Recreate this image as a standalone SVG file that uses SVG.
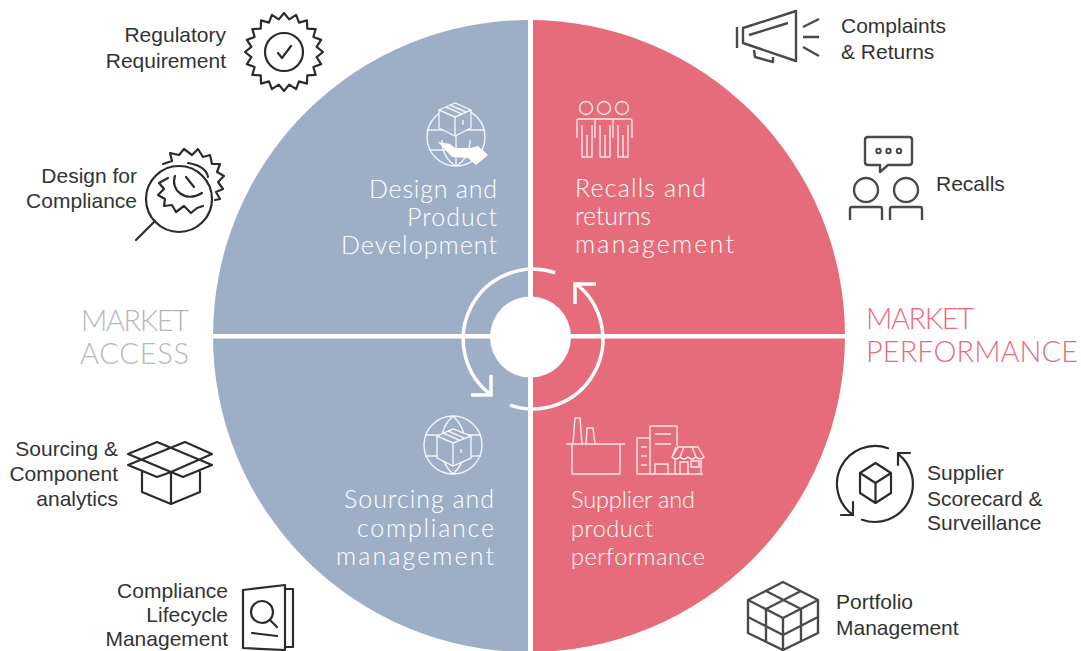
<svg xmlns="http://www.w3.org/2000/svg" width="1081" height="651" viewBox="0 0 1081 651">
<style>
.lbl{font-family:"Liberation Sans",Arial,sans-serif;font-size:21px;fill:#333}
.end{text-anchor:end}
.in{font-family:Lato,"Open Sans",sans-serif;font-weight:300;font-size:25px;fill:#fff}
.in2{font-size:23.500px}
.big{font-family:Lato,"Open Sans",sans-serif;font-weight:300;font-size:29px}
.ic{fill:none;stroke:#2b2b2b;stroke-width:2.200;stroke-linejoin:round;stroke-linecap:round}
.ig{fill:none;stroke:#4a4a4a;stroke-width:2.400;stroke-linejoin:round}
.dot{fill:none;stroke:#4a4a4a;stroke-width:2}
.wi{fill:none;stroke:#fff;stroke-width:1.400;stroke-linejoin:round;opacity:.85}
.ring{fill:none;stroke:#fff;stroke-width:3.500}
</style>
<defs>
<clipPath id="lh"><rect x="0" y="0" width="528" height="651"/></clipPath>
<clipPath id="rh"><rect x="533" y="0" width="548" height="651"/></clipPath>
</defs>
<rect width="1081" height="651" fill="#fff"/>
<g id="quadrants">
<circle cx="529" cy="336" r="316" fill="#9dafc7" clip-path="url(#lh)"/>
<circle cx="529" cy="336" r="316" fill="#e76c7b" clip-path="url(#rh)"/>
<rect x="205" y="334" width="650" height="4.500" fill="#fff"/>
</g>
<g id="centre">
<circle cx="530.500" cy="337" r="40.500" fill="#fff"/>
<path class="ring" d="M555.100,272.600A70,70 0 0 0 491.900,395.600"/>
<path class="ring" d="M491,375V395H471"/>
<path class="ring" d="M510,405.100A70,70 0 0 0 575.500,283.400"/>
<path class="ring" d="M575,304V284H596"/>
</g>
<g id="market-access">
<text class="big end" x="189" y="331" fill="#b3b8bd" textLength="108">MARKET</text>
<text class="big end" x="189" y="364" fill="#b3b8bd" textLength="109">ACCESS</text>
</g>
<g id="market-performance">
<text class="big" x="866" y="329" fill="#e76c7b" textLength="108">MARKET</text>
<text class="big" x="866" y="362" fill="#e76c7b" textLength="212">PERFORMANCE</text>
</g>
<g id="design-development">
<circle class="wi" cx="456" cy="137" r="29"/>
<path class="wi" d="M428,130H484M429,150H483M456,136V166M442,140C442,150 446,160 456,166M470,140C470,150 466,160 456,166"/>
<path d="M439,110L455,103L471,110V128L455,136L439,128Z" fill="#9dafc7" stroke="#fff" stroke-width="1.200" opacity=".9"/>
<path class="wi" d="M439,110L455,117L471,110M455,117V136M446,107L462,114M450,105L466,112M463,120V125"/>
<path d="M438,142L450,144L455,148L470,148L478,146L488,155L476,165L468,158L452,157Z" fill="#fff"/>
<text class="in end" x="497" y="198" textLength="128">Design and</text>
<text class="in end" x="497" y="226" textLength="90">Product</text>
<text class="in end" x="497" y="254" textLength="156">Development</text>
</g>
<g id="recalls-management">
<circle class="wi" cx="586" cy="108" r="6.500"/><circle class="wi" cx="604" cy="108" r="6.500"/><circle class="wi" cx="622" cy="108" r="6.500"/>
<path class="wi" d="M577,138V121Q577,119 579,119H630Q632,119 632,121V138M595,119V138M613,119V138"/>
<path class="wi" d="M582,125V157H592V125M587,135V157M600,125V157H610V125M605,135V157M618,125V157H628V125M623,135V157"/>
<text class="in" x="575" y="197" textLength="131">Recalls and</text>
<text class="in" x="575" y="225" textLength="76">returns</text>
<text class="in" x="575" y="253" textLength="159">management</text>
</g>
<g id="sourcing-compliance">
<circle class="wi" cx="453" cy="445" r="29"/>
<path class="wi" d="M425,435H481M425,456H481M453,416C437,430 437,460 453,474M453,416C469,430 469,460 453,474"/>
<path d="M437,436L453,429L471,436V458L453,466L437,458Z" fill="#9dafc7" stroke="#fff" stroke-width="1.200"/>
<path class="wi" d="M437,436L453,443L471,436M453,443V466M443,433L459,440M448,431L464,438M461,449V453"/>
<text class="in end" x="494" y="508" textLength="150">Sourcing and</text>
<text class="in end" x="494" y="537" textLength="137">compliance</text>
<text class="in end" x="494" y="565" textLength="158">management</text>
</g>
<g id="supplier-performance">
<path class="wi" d="M566,444H625M572,444V474H620V444M573,444L575,418H580L582,444M586,444L587,428H593L595,444"/>
<path class="wi" d="M650,438H637V474H703M650,426H677V446M650,426V474M655,434H671M655,444H671M641,447H647M641,456H647M641,465H647M655,464H668V474H655Z"/>
<path class="wi" d="M672,457L678,447H698L704,457Q700,461 696,457Q692,461 688,457Q684,461 680,457Q676,461 672,457ZM675,460V474M701,460V474M676,447L672,457M684,447L680,457M692,447L696,457M680,474V462H688V474M691,461H699V467H691Z"/>
<text class="in in2" x="571" y="508" textLength="124">Supplier and</text>
<text class="in in2" x="571" y="537" textLength="82">product</text>
<text class="in in2" x="571" y="565" textLength="134">performance</text>
</g>
<g id="regulatory-requirement">
<text class="lbl end" x="226" y="42">Regulatory</text>
<text class="lbl end" x="226" y="68">Requirement</text>
<g transform="translate(284,52)">
<path class="ic" d="M39,0L32.600,5.200L37.100,12.100L29.400,15L31.600,22.900L23.300,23.300L22.900,31.600L15,29.400L12.100,37.100L5.200,32.600L0,39L-5.200,32.600L-12.100,37.100L-15,29.400L-22.900,31.600L-23.300,23.300L-31.600,22.900L-29.400,15L-37.100,12.100L-32.600,5.200L-39,0L-32.600,-5.200L-37.100,-12.100L-29.400,-15L-31.600,-22.900L-23.300,-23.300L-22.900,-31.600L-15,-29.400L-12.100,-37.100L-5.200,-32.600L0,-39L5.200,-32.600L12.100,-37.100L15,-29.400L22.900,-31.600L23.300,-23.300L31.600,-22.900L29.400,-15L37.100,-12.100L32.600,-5.200Z"/>
<circle class="ic" cx="0" cy="0" r="19"/>
<path class="ic" d="M-6,1L-2,6L7,-6"/>
</g>
</g>
<g id="design-compliance">
<text class="lbl end" x="137" y="183">Design for</text>
<text class="lbl end" x="137" y="208">Compliance</text>
<circle class="ic" cx="179" cy="199" r="33"/>
<path class="ic" d="M155,221L136,240"/>
<path class="ic" d="M163,164L172,161L170,153L179,155L184,149L192,155L198,149L203,157L210,155L212,164L220,164L217,172L224,176L218,182L223,189L216,192L220,199L215,200"/>
<path class="ic" d="M188,163Q206,166 208,177"/>
<path class="ic" d="M175,176C170,190 185,203 202,193"/>
<path class="ic" d="M186,177L194,187"/>
<path class="ic" d="M168,178L159,183L164,189L158,195L165,199L164,206L172,205L176,212L184,206L191,213L197,208L203,206"/>
</g>
<g id="complaints-returns">
<path class="ig" d="M737,27V48M743,28V43L796,61V11Z M749,35L788,23"/>
<path class="ig" d="M754,50L755,57L773,62V57"/>
<path class="ig" d="M803,27L819,19M803,37H819M803,47L819,56"/>
<text class="lbl" x="841" y="33">Complaints</text>
<text class="lbl" x="841" y="59">&amp; Returns</text>
</g>
<g id="recalls">
<path class="ig" d="M868,137H909Q912,137 912,140V162Q912,165 909,165H888L880,172V165H868Q865,165 865,162V140Q865,137 868,137Z"/>
<circle class="dot" cx="878.500" cy="151" r="2.200"/><circle class="dot" cx="888.500" cy="151" r="2.200"/><circle class="dot" cx="899" cy="151" r="2.200"/>
<circle class="ig" cx="866" cy="190" r="12"/><circle class="ig" cx="906" cy="190" r="12"/>
<path class="ig" d="M850,220V209Q850,207 852,207H880Q882,207 882,209V220M890,220V209Q890,207 892,207H920Q922,207 922,209V220"/>
<text class="lbl" x="936" y="191">Recalls</text>
</g>
<g id="sourcing-analytics">
<text class="lbl end" x="118" y="456">Sourcing &amp;</text>
<text class="lbl end" x="118" y="481">Component</text>
<text class="lbl end" x="118" y="506">analytics</text>
<path class="ic" d="M128,454L157,442L212,465L183,477L171,472L157,477L128,465L185,442L212,454L171,472L128,454ZM142,472V492L171,504L200,492V472M171,472V504"/>
</g>
<g id="compliance-lifecycle">
<text class="lbl end" x="228" y="598">Compliance</text>
<text class="lbl end" x="228" y="622">Lifecycle</text>
<text class="lbl end" x="228" y="646">Management</text>
<path class="ic" d="M243,590L285,585V650L243,648ZM285,589H293V647H285"/>
<circle class="ic" cx="262" cy="612" r="11"/>
<path class="ic" d="M270,620L277,627M252,633L277,636"/>
</g>
<g id="supplier-scorecard">
<path class="ic" d="M888,448.300A38,38 0 0 0 853,515M862,519.700A38,38 0 0 0 898,453.800"/>
<path class="ic" d="M853,502V515H841M898,465V453H910"/>
<path class="ic" d="M875.500,463L891,473V493L875.500,503L860,493V473ZM860,473L875.500,483L891,473M875.500,483V503"/>
<text class="lbl" x="927" y="480">Supplier</text>
<text class="lbl" x="927" y="506">Scorecard &amp;</text>
<text class="lbl" x="927" y="530">Surveillance</text>
</g>
<g id="portfolio-management">
<path class="ig" d="M783,582L748,600V633L783,650L818,633V600ZM748,600L783,618L818,600M783,618V650M748,617L783,635L818,617M766,591L801,609M801,591L766,609M766,609V642M801,609V642"/>
<text class="lbl" x="836" y="609">Portfolio</text>
<text class="lbl" x="836" y="635">Management</text>
</g>
</svg>
